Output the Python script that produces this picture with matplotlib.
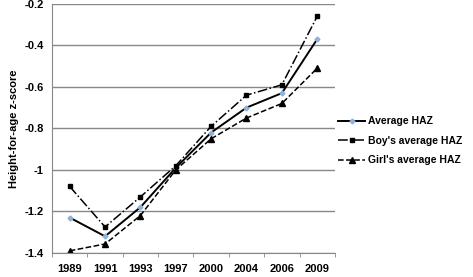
import numpy as np
import matplotlib.pyplot as plt

years = ['1989', '1991', '1993', '1997', '2000', '2004', '2006', '2009']
avg_haz = [-1.23, -1.32, -1.18, -0.99, -0.82, -0.70, -0.63, -0.37]
boys_haz = [-1.08, -1.275, -1.13, -0.98, -0.79, -0.64, -0.59, -0.26]
girls_haz = [-1.39, -1.357, -1.22, -1.0, -0.85, -0.75, -0.68, -0.51]

plt.rcParams['font.family'] = ['Liberation Sans', 'DejaVu Sans']

fig = plt.figure(figsize=(4.73, 2.77), dpi=100)
ax = fig.add_axes([0.11, 0.087, 0.598, 0.899])

x = np.arange(len(years))
ax.plot(x, avg_haz, '-', color='black', lw=1.4, marker='D', ms=2.5,
        mfc='#8fb3d9', mec='#8fb3d9', label='Average HAZ')
ax.plot(x, boys_haz, '-.', color='black', lw=1.1, marker='s', ms=3,
        label="Boy's average HAZ")
ax.plot(x, girls_haz, '--', color='black', lw=1.1, marker='^', ms=4,
        label="Girl's average HAZ")

ax.set_xlim(-0.5, len(years) - 0.5)
ax.set_ylim(-1.4, -0.2)
ax.set_yticks(np.arange(-1.4, -0.19, 0.2))
ax.set_yticklabels(['-1.4', '-1.2', '-1', '-0.8', '-0.6', '-0.4', '-0.2'],
                   fontweight='bold', fontsize=8)
ax.set_xticks(x)
ax.set_xticklabels(years, fontweight='bold', fontsize=8)
ax.set_xticks(np.arange(-0.5, len(years)), minor=True)
ax.tick_params(axis='x', which='major', length=0, pad=8)
ax.tick_params(axis='x', which='minor', length=3, color='#888888')
ax.tick_params(axis='y', length=0, pad=6)
ax.grid(axis='y', color='#888888', lw=1)
ax.set_axisbelow(True)
for s in ['top', 'right']:
    ax.spines[s].set_visible(False)
ax.spines['left'].set_color('#888888')
ax.spines['bottom'].set_color('#888888')
ax.set_ylabel('Height-for-age z-score', fontweight='bold', fontsize=8)

ax.legend(loc='center left', bbox_to_anchor=(1.0, 0.45), frameon=False,
          prop={'weight': 'bold', 'size': 7.5}, handlelength=2.6,
          handletextpad=0.3, borderpad=0, borderaxespad=0.3, labelspacing=0.9)

fig.savefig('out.png', dpi=100)
